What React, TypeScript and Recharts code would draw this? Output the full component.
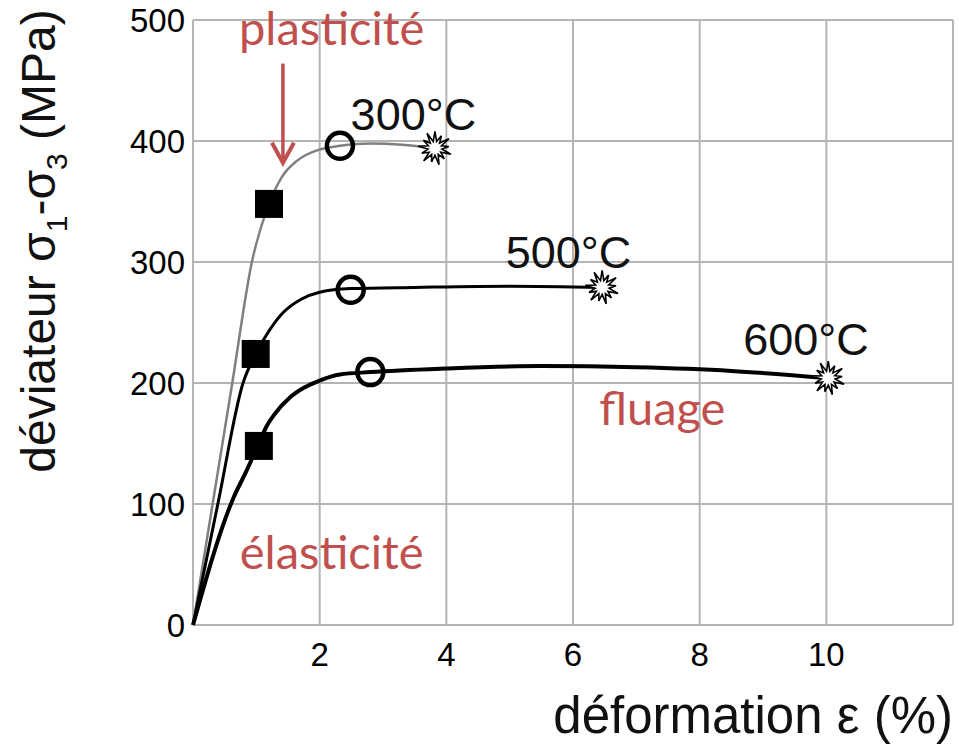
import React from 'react';
import {
  ComposedChart,
  XAxis,
  YAxis,
  CartesianGrid,
  Line,
  Scatter,
  ReferenceDot,
  ReferenceLine,
  Label,
} from 'recharts';

// stress-strain curves, strain in %, deviatoric stress in MPa
const curve300 = [
  { x: 0, y: 0 },
  { x: 0.62, y: 200 },
  { x: 0.93, y: 300 },
  { x: 1.2, y: 348 },
  { x: 1.4, y: 370 },
  { x: 1.65, y: 384 },
  { x: 2.0, y: 393 },
  { x: 2.32, y: 396 },
  { x: 2.8, y: 398 },
  { x: 3.3, y: 397 },
  { x: 3.82, y: 394 },
];

const curve500 = [
  { x: 0, y: 0 },
  { x: 0.4, y: 102 },
  { x: 0.79, y: 200 },
  { x: 0.99, y: 224 },
  { x: 1.14, y: 238 },
  { x: 1.42, y: 258 },
  { x: 1.7, y: 269 },
  { x: 2.0, y: 275 },
  { x: 2.49, y: 278 },
  { x: 3.5, y: 279 },
  { x: 5.0, y: 280 },
  { x: 6.46, y: 279 },
];

const curve600 = [
  { x: 0, y: 0 },
  { x: 0.63, y: 104 },
  { x: 0.85, y: 128 },
  { x: 1.04, y: 150 },
  { x: 1.15, y: 163 },
  { x: 1.3, y: 175 },
  { x: 1.53, y: 188 },
  { x: 1.75, y: 196 },
  { x: 2.0, y: 202 },
  { x: 2.32, y: 207 },
  { x: 2.8, y: 209 },
  { x: 4.0, y: 212 },
  { x: 5.5, y: 214 },
  { x: 7.0, y: 213 },
  { x: 8.5, y: 210 },
  { x: 10.03, y: 204 },
];

// markers: elastic limit, yield, rupture
const elasticLimit = [
  { x: 1.2, y: 348 },
  { x: 0.99, y: 224 },
  { x: 1.04, y: 148 },
];
const yieldPoints = [
  { x: 2.32, y: 396 },
  { x: 2.49, y: 277 },
  { x: 2.8, y: 209 },
];
const rupturePoints = [
  { x: 3.82, y: 394 },
  { x: 6.46, y: 279 },
  { x: 10.03, y: 204 },
];

const xTicks = [0, 2, 4, 6, 8, 10, 12];
const yTicks = [0, 100, 200, 300, 400, 500];

const curveLabels = [
  { text: '300°C', x: 3.48, y: 422 },
  { text: '500°C', x: 5.93, y: 308 },
  { text: '600°C', x: 9.68, y: 236 },
];
const phaseLabels = [
  { text: 'plasticité', x: 2.19, y: 493 },
  { text: 'élasticité', x: 2.19, y: 60 },
  { text: 'fluage', x: 7.41, y: 179 },
];
const plasticArrow = [
  { x: 1.42, y: 464 },
  { x: 1.42, y: 382 },
];

const sans = '"Liberation Sans", Arial, Helvetica, sans-serif';
const red = '#c0504d';

const SquareMarker = (props: any) => {
  const { cx, cy } = props;
  return <rect x={cx - 14} y={cy - 14} width={28} height={28} fill="#000" />;
};

const CircleMarker = (props: any) => {
  const { cx, cy } = props;
  return <circle cx={cx} cy={cy} r={13} fill="none" stroke="#000" strokeWidth={4.5} />;
};

const StarMarker = (props: any) => {
  const { cx, cy } = props;
  const n = 13;
  const pts: string[] = [];
  for (let i = 0; i < n * 2; i++) {
    const r = i % 2 === 0 ? (i % 4 === 0 ? 17 : 14) : 7;
    const a = (Math.PI * i) / n - Math.PI / 2;
    pts.push(`${cx + r * Math.cos(a)},${cy + r * Math.sin(a)}`);
  }
  return <polygon points={pts.join(' ')} fill="#fff" stroke="#000" strokeWidth={1.6} />;
};

const ArrowShape = (props: any) => {
  const { x1, y1, x2, y2 } = props;
  return (
    <g>
      <line x1={x1} y1={y1} x2={x2} y2={y2 - 2} stroke={red} strokeWidth={3.5} />
      <path
        d={`M${x2 - 11},${y2 - 20}L${x2},${y2}L${x2 + 11},${y2 - 20}`}
        fill="none"
        stroke={red}
        strokeWidth={4}
      />
    </g>
  );
};

const XTitle = (props: any) => {
  const { viewBox } = props;
  return (
    <text
      x={viewBox.x + viewBox.width}
      y={viewBox.y + 108}
      textAnchor="end"
      fontSize={51}
      fontFamily={sans}
      fill="#111"
    >
      déformation ε (%)
    </text>
  );
};

const YTitle = (props: any) => {
  const { viewBox } = props;
  const cx = viewBox.x - 58;
  const cy = 241;
  return (
    <text
      x={cx}
      y={cy}
      transform={`rotate(-90 ${cx} ${cy})`}
      textAnchor="middle"
      fontSize={48}
      fontFamily={sans}
      fill="#111"
    >
      déviateur σ
      <tspan fontSize={30} dy={12}>1</tspan>
      <tspan dy={-12}>-σ</tspan>
      <tspan fontSize={30} dy={12}>3</tspan>
      <tspan dy={-12}> (MPa)</tspan>
    </text>
  );
};

export default function App() {
  return (
    <div style={{ position: 'absolute', left: 0, top: 0, width: 959, height: 745, background: '#fff' }}>
      <ComposedChart width={959} height={745} margin={{ top: 20, right: 6, bottom: 60, left: 113 }}>
        <CartesianGrid stroke="#b4b4b4" strokeWidth={2} />
        <XAxis
          type="number"
          dataKey="x"
          domain={[0, 12]}
          ticks={xTicks}
          tickFormatter={(v: number) => (v === 0 || v === 12 ? '' : String(v))}
          axisLine={false}
          tickLine={false}
          tickMargin={12}
          height={60}
          tick={{ fontSize: 33, fill: '#000', fontFamily: sans }}
        >
          <Label content={XTitle} />
        </XAxis>
        <YAxis
          type="number"
          domain={[0, 500]}
          ticks={yTicks}
          width={80}
          axisLine={false}
          tickLine={false}
          tick={{ fontSize: 33, fill: '#000', fontFamily: sans }}
        >
          <Label content={YTitle} />
        </YAxis>

        <Line data={curve300} dataKey="y" type="monotone" stroke="#808080" strokeWidth={2.5} dot={false} activeDot={false} isAnimationActive={false} />
        <Line data={curve500} dataKey="y" type="monotone" stroke="#000" strokeWidth={3} dot={false} activeDot={false} isAnimationActive={false} />
        <Line data={curve600} dataKey="y" type="monotone" stroke="#000" strokeWidth={4} dot={false} activeDot={false} isAnimationActive={false} />

        <Scatter data={elasticLimit} dataKey="y" shape={SquareMarker} isAnimationActive={false} />
        <Scatter data={yieldPoints} dataKey="y" shape={CircleMarker} isAnimationActive={false} />
        <Scatter data={rupturePoints} dataKey="y" shape={StarMarker} isAnimationActive={false} />

        <ReferenceLine segment={plasticArrow} shape={ArrowShape} stroke={red} />

        {curveLabels.map((l) => (
          <ReferenceDot
            key={l.text}
            x={l.x}
            y={l.y}
            r={0}
            fill="none"
            stroke="none"
            label={{ value: l.text, position: 'center', fontSize: 45, fill: '#111', fontFamily: sans }}
          />
        ))}
        {phaseLabels.map((l) => (
          <ReferenceDot
            key={l.text}
            x={l.x}
            y={l.y}
            r={0}
            fill="none"
            stroke="none"
            label={{ value: l.text, position: 'center', fontSize: 47, fill: red, fontFamily: 'Lato, "Open Sans", sans-serif' }}
          />
        ))}
      </ComposedChart>
    </div>
  );
}
